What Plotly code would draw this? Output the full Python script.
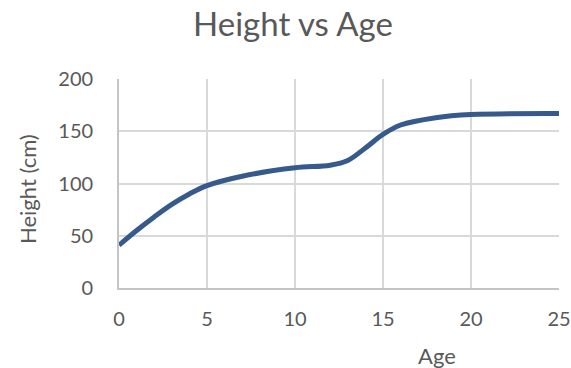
import plotly.graph_objects as go

# Growth curve: age in years, height in cm
ages = [0, 1, 2, 3, 4, 5, 7, 10, 12, 13, 14, 15, 16, 18, 20, 25]
heights = [41, 55, 68, 80, 90, 98, 107, 115, 117.5, 122, 134, 147, 156, 163, 166, 167]

x_ticks = [0, 5, 10, 15, 20, 25]
y_ticks = [0, 50, 100, 150, 200]

font_family = "Lato, 'Open Sans', sans-serif"
text_color = "#595959"
grid_color = "#d9d9d9"
axis_color = "#c4c4c4"

fig = go.Figure()
fig.add_trace(go.Scatter(
    x=ages, y=heights, mode="lines",
    line=dict(color="#375a8c", width=5, shape="spline", smoothing=1.0),
    hoverinfo="skip", showlegend=False,
))

fig.update_layout(
    width=571, height=368,
    margin=dict(l=119, r=12, t=79, b=80),
    paper_bgcolor="white", plot_bgcolor="white",
    font=dict(family=font_family, color=text_color, size=20),
    title=dict(text="Height vs Age", x=293 / 571, xref="container", xanchor="center",
               y=1 - 24 / 368, yref="container", yanchor="middle",
               font=dict(size=33, color=text_color, family=font_family)),
    xaxis=dict(range=[0, 25], tickvals=x_ticks, showgrid=True, gridcolor=grid_color, gridwidth=1.6,
               zeroline=False, showline=True, linecolor=axis_color, linewidth=1.8, mirror=False,
               ticks="outside", ticklen=12, tickcolor="rgba(0,0,0,0)", automargin=False,
               tickfont=dict(size=20, color=text_color)),
    yaxis=dict(range=[0, 200], tickvals=y_ticks, showgrid=True, gridcolor=grid_color, gridwidth=1.6,
               zeroline=False, showline=True, linecolor=axis_color, linewidth=1.8, automargin=False,
               ticks="outside", ticklen=20, tickcolor="rgba(0,0,0,0)",
               tickfont=dict(size=20, color=text_color)),
    annotations=[
        dict(text="Age", xref="paper", yref="paper", x=(437 - 119) / 440, y=(288 - 355) / 209,
             xanchor="center", yanchor="middle", showarrow=False,
             font=dict(size=22, color=text_color, family=font_family)),
        dict(text="Height (cm)", xref="paper", yref="paper", x=(27 - 119) / 440, y=(288 - 189) / 209,
             xanchor="center", yanchor="middle", showarrow=False, textangle=-90,
             font=dict(size=22, color=text_color, family=font_family)),
    ],
)

fig.write_html("out.html")
